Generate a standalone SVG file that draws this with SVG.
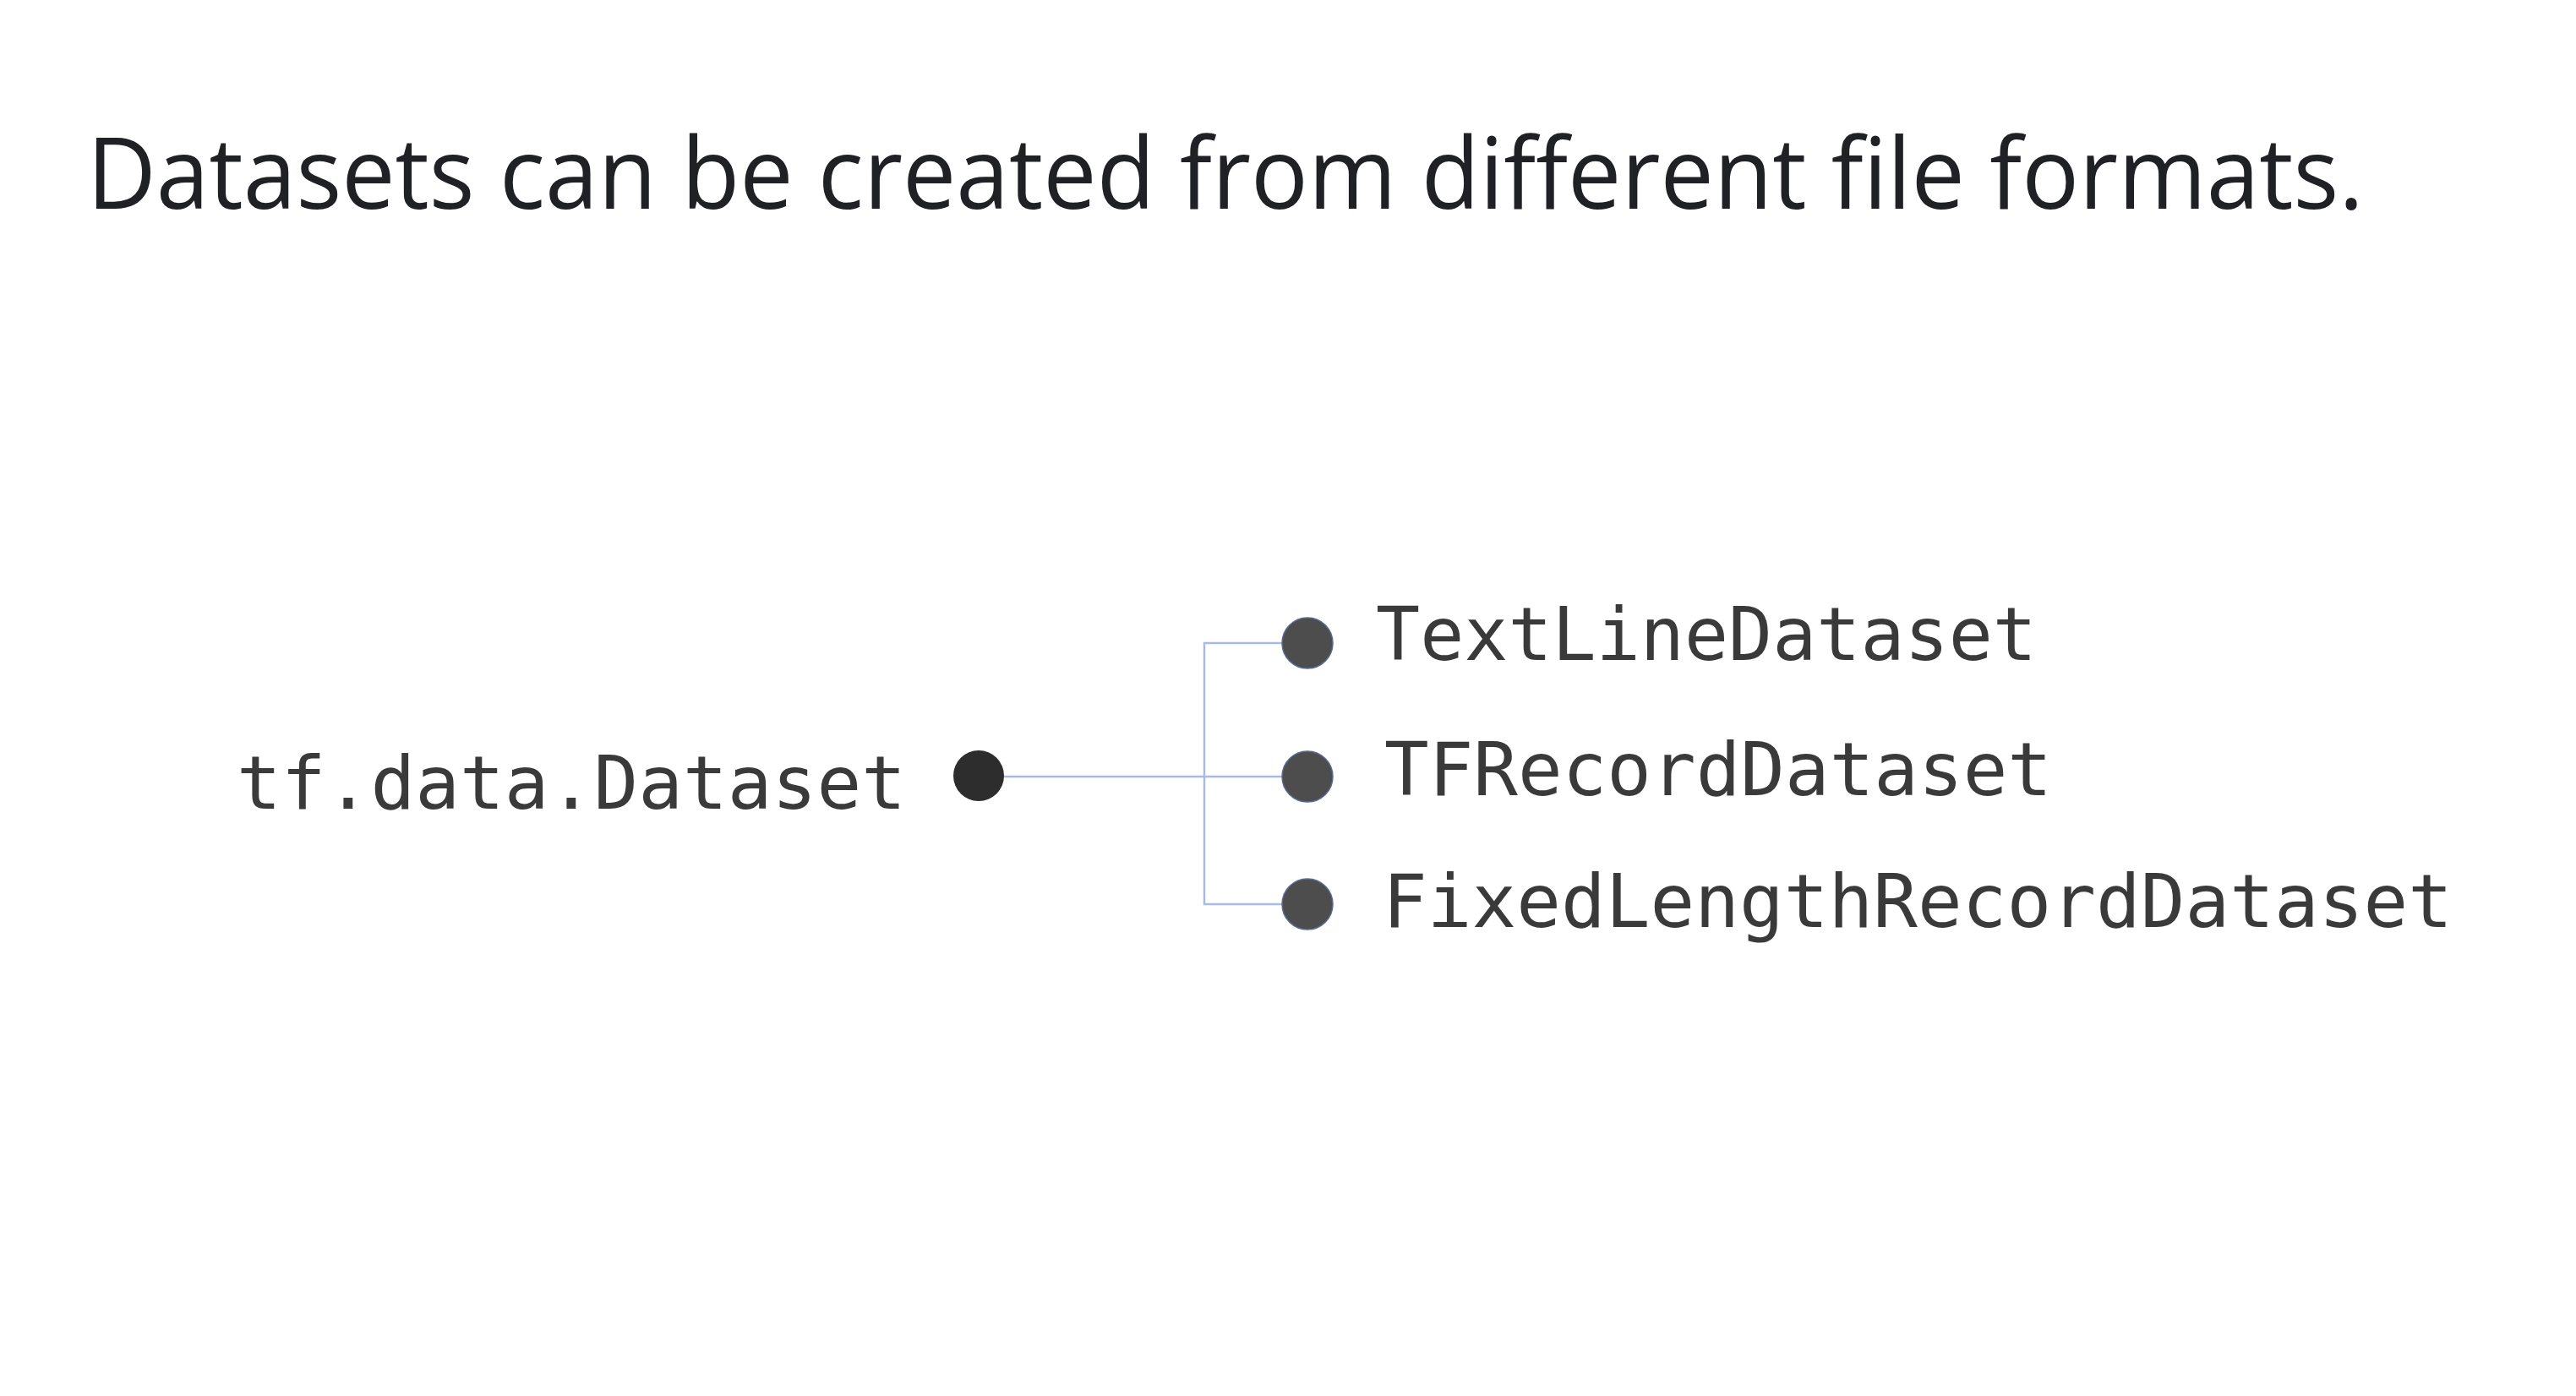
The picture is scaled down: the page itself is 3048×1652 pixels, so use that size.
<svg xmlns="http://www.w3.org/2000/svg" width="3048" height="1652" viewBox="0 0 3048 1652">
<style>
.title{font-family:"Open Sans","Liberation Sans",sans-serif;font-size:118px;fill:#202124}
.code{font-family:"DejaVu Sans Mono","Liberation Mono",monospace;font-size:87px;fill:#3a3a3a}
.conn{fill:none;stroke:#a9bbe0;stroke-width:2.5}
.root{fill:#2d2d2d}
.leaf{fill:#4d4d4d;stroke:#5a6a90;stroke-width:1.5}
</style>
<rect width="3048" height="1652" fill="#ffffff"/>
<text class="title" x="103" y="247" textLength="2694" lengthAdjust="spacingAndGlyphs">Datasets can be created from different file formats.</text>
<g id="connectors">
<line class="conn" x1="1158" y1="919" x2="1547" y2="919"/>
<polyline class="conn" points="1547,761 1425,761 1425,1070 1547,1070"/>
</g>
<g id="node-root">
<text class="code" x="280" y="957" textLength="792" lengthAdjust="spacingAndGlyphs">tf.data.Dataset</text>
<circle class="root" cx="1158" cy="918" r="30"/>
</g>
<g id="node-textline">
<circle class="leaf" cx="1547" cy="761" r="30"/>
<text class="code" x="1628" y="781" textLength="782" lengthAdjust="spacingAndGlyphs">TextLineDataset</text>
</g>
<g id="node-tfrecord">
<circle class="leaf" cx="1547" cy="919" r="30"/>
<text class="code" x="1638" y="941" textLength="790" lengthAdjust="spacingAndGlyphs">TFRecordDataset</text>
</g>
<g id="node-fixedlength">
<circle class="leaf" cx="1547" cy="1070" r="30"/>
<text class="code" x="1636" y="1097" textLength="1266" lengthAdjust="spacingAndGlyphs">FixedLengthRecordDataset</text>
</g>
</svg>
